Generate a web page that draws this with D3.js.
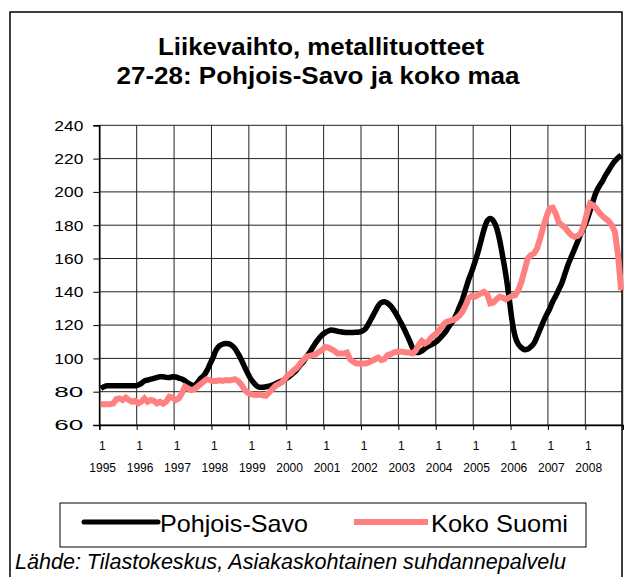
<!DOCTYPE html>
<html>
<head>
<meta charset="utf-8">
<script src="https://cdn.jsdelivr.net/npm/d3@7"></script>
<style>
  body { margin: 0; background: #fff; }
  text { font-family: "Liberation Sans", Arial, sans-serif; }
</style>
</head>
<body>
<div id="chart"></div>
<script>
// chart data: monthly values Jan 1995 .. Dec 2008
const years = [1995, 1996, 1997, 1998, 1999, 2000, 2001, 2002, 2003, 2004, 2005, 2006, 2007, 2008];
const yTicks = [60, 80, 100, 120, 140, 160, 180, 200, 220, 240];

const pohjoisSavo = [
  82, 83, 83.5, 83.5, 83.5, 83.5, 83.5, 83.5, 83.5, 83.5, 83.5, 83.5,
  84, 85, 86.5, 87, 87.5, 88, 88.5, 89, 89, 88.6, 88.5, 89,
  88.8, 88.2, 87.6, 86.5, 85.2, 84.2, 83.8, 85.5, 88, 89.5, 92.5, 96.5,
  100.5, 105, 107.5, 108.5, 109, 108.8, 107.8, 106, 103, 99.5, 95.5, 91.5,
  88, 85.5, 83.5, 82.6, 82.6, 83, 83.3, 84, 84.8, 85.6, 86.4, 87.2,
  88.5, 90, 91.5, 93.5, 96, 98, 101, 103.5, 106.5, 109.5, 112, 114,
  115.5, 116.5, 117, 116.8, 116.3, 116, 115.7, 115.6, 115.6, 115.6, 115.7, 115.8,
  116.5, 118, 121, 124.5, 128, 131.5, 133.5, 134, 133.2, 131.5, 129, 126,
  122.5, 119, 115, 111, 106.5, 103.5, 103.5, 104.5, 106, 107.2, 108.2, 109.2,
  110.5, 112.5, 114.5, 117, 120, 122.5, 126, 130.5, 135, 141, 147, 152,
  157.5, 163.5, 170.5, 177.5, 182.5, 184, 182.5, 178.5, 171, 161, 150, 137,
  122.5, 113, 108.5, 106.5, 105.2, 105.5, 107, 109, 113, 117.5, 122, 126,
  129.5, 134, 137.5, 141.5, 145.5, 151, 156.5, 161, 165.5, 170, 174.5, 178.5,
  183, 188.5, 194.5, 200, 203.5, 206.5, 210, 213, 216, 218.5, 220.5, 222
];

const kokoSuomi = [
  72.5, 72.5, 72.5, 72.5, 73, 75.5, 76, 75, 76.5, 75, 74, 74.5,
  73, 74, 76, 74, 75, 74.5, 73, 74, 72.8, 74, 77, 76.5,
  75, 76, 79, 83, 82, 81, 81.5, 83, 84.5, 86, 87.5, 87,
  86.5, 86.5, 86.8, 86.5, 87, 86.8, 87, 87.5, 86.5, 84.5, 81.5, 79.5,
  78.5, 78.2, 78, 78.3, 77.8, 77.5, 79.5, 81.5, 83.5, 84.5, 85.5, 87.5,
  90, 91, 93, 94.5, 97, 99, 101, 101.5, 102, 102.5, 104, 105,
  107, 106.5, 105.5, 104.5, 103, 103, 103, 103.5, 99.5, 98, 97, 97,
  97, 97, 97.5, 98.5, 99.5, 100.5, 99, 99.5, 102, 102.5, 103.5, 104,
  104, 104, 103.5, 103.5, 103, 104.5, 108, 110.5, 109, 110, 112.5, 114,
  115.5, 118, 120.5, 122, 122.5, 123, 124, 125.5, 128, 131.5, 136, 137.5,
  137, 138, 139, 140, 138.5, 133, 133.5, 135.5, 137, 136.5, 135.5, 136.5,
  137.5, 138, 141, 146, 153, 160, 162, 163, 166, 172, 179, 185,
  190, 190.5, 187, 181.5, 180, 178.5, 176, 174, 173, 173.5, 175, 180,
  187, 193, 192, 190, 187.5, 185.5, 184, 182.5, 180, 176, 162, 141
];

const seriesNames = ["Pohjois-Savo", "Koko Suomi"];
const seriesColors = ["#000000", "#ff8080"];

const W = 626, H = 577;
const plot = { left: 99.3, right: 622.7, top: 125.3, bottom: 425 };

const svg = d3.select("#chart")
  .append("svg")
  .attr("width", W)
  .attr("height", H);

// outer frame
svg.append("rect")
  .attr("x", 10).attr("y", 12)
  .attr("width", 612).attr("height", 600)
  .attr("fill", "none")
  .attr("stroke", "#000")
  .attr("stroke-width", 1.5);

// title
svg.append("text")
  .attr("x", 321).attr("y", 55)
  .attr("text-anchor", "middle")
  .attr("font-size", 24).attr("font-weight", "bold")
  .attr("textLength", 326).attr("lengthAdjust", "spacingAndGlyphs")
  .text("Liikevaihto, metallituotteet");
svg.append("text")
  .attr("x", 318).attr("y", 84)
  .attr("text-anchor", "middle")
  .attr("font-size", 24).attr("font-weight", "bold")
  .attr("textLength", 403).attr("lengthAdjust", "spacingAndGlyphs")
  .text("27-28: Pohjois-Savo ja koko maa");

// scales
const nMonths = years.length * 12;
const x = d3.scaleLinear().domain([0, nMonths]).range([plot.left, plot.right]);
const y = d3.scaleLinear().domain([60, 240]).range([plot.bottom, plot.top]);

const g = svg.append("g");

// horizontal gridlines
g.selectAll("line.hgrid")
  .data(yTicks)
  .enter().append("line")
  .attr("x1", plot.left).attr("x2", plot.right)
  .attr("y1", d => y(d)).attr("y2", d => y(d))
  .attr("stroke", "#222").attr("stroke-width", 1);

// vertical gridlines at each January + right edge
const janIdx = years.map((yr, i) => i * 12).concat([nMonths]);
g.selectAll("line.vgrid")
  .data(janIdx)
  .enter().append("line")
  .attr("x1", d => x(d)).attr("x2", d => x(d))
  .attr("y1", plot.top).attr("y2", plot.bottom)
  .attr("stroke", "#222").attr("stroke-width", 1);

// y axis
const yAxis = g.append("g")
  .attr("transform", `translate(${plot.left},0)`)
  .call(d3.axisLeft(y).tickValues(yTicks).tickSize(6).tickPadding(10).tickFormat(d3.format("d")));
yAxis.select(".domain").attr("stroke", "#000").attr("stroke-width", 1.5);
yAxis.selectAll("text")
  .attr("font-size", 15)
  .attr("fill", "#000")
  .attr("textLength", 29).attr("lengthAdjust", "spacingAndGlyphs");

// x axis
const xAxis = g.append("g")
  .attr("transform", `translate(0,${plot.bottom})`)
  .call(d3.axisBottom(x).tickValues(janIdx.slice(0, -1)).tickSize(5).tickFormat(""));
xAxis.select(".domain").attr("stroke", "#000").attr("stroke-width", 1.5);

g.selectAll("text.mon")
  .data(years)
  .enter().append("text")
  .attr("x", (d, i) => x(i * 12) + 3)
  .attr("y", 450)
  .attr("text-anchor", "middle")
  .attr("font-size", 12)
  .text("1");
g.selectAll("text.yr")
  .data(years)
  .enter().append("text")
  .attr("x", (d, i) => x(i * 12) + 3.4)
  .attr("y", 472)
  .attr("text-anchor", "middle")
  .attr("font-size", 12)
  .attr("textLength", 26.7).attr("lengthAdjust", "spacingAndGlyphs")
  .text(d => d);

// lines
const line = d3.line()
  .x((d, i) => x(i + 0.5))
  .y(d => y(d));

g.append("path")
  .datum(pohjoisSavo)
  .attr("fill", "none")
  .attr("stroke", seriesColors[0])
  .attr("stroke-width", 5.5)
  .attr("stroke-linejoin", "round")
  .attr("d", line.curve(d3.curveMonotoneX));

g.append("path")
  .datum(kokoSuomi)
  .attr("fill", "none")
  .attr("stroke", seriesColors[1])
  .attr("stroke-width", 6)
  .attr("stroke-linejoin", "miter")
  .attr("d", line.curve(d3.curveLinear));

// legend
const lg = svg.append("g");
lg.append("rect")
  .attr("x", 60).attr("y", 503)
  .attr("width", 526).attr("height", 44)
  .attr("fill", "#fff")
  .attr("stroke", "#000").attr("stroke-width", 1);

const legendItems = [
  { x1: 84, x2: 158, tx: 160, tw: 148 },
  { x1: 354, x2: 428, tx: 431, tw: 137 }
];
legendItems.forEach((it, i) => {
  lg.append("line")
    .attr("x1", it.x1).attr("x2", it.x2)
    .attr("y1", 522).attr("y2", 522)
    .attr("stroke", seriesColors[i])
    .attr("stroke-width", i === 0 ? 5 : 6)
    .attr("stroke-linecap", i === 0 ? "round" : "butt");
  lg.append("text")
    .attr("x", it.tx).attr("y", 532)
    .attr("font-size", 24)
    .attr("textLength", it.tw).attr("lengthAdjust", "spacingAndGlyphs")
    .text(seriesNames[i]);
});

// source
svg.append("text")
  .attr("x", 15).attr("y", 569)
  .attr("font-size", 22)
  .attr("font-style", "italic")
  .attr("textLength", 551).attr("lengthAdjust", "spacingAndGlyphs")
  .text("Lähde: Tilastokeskus, Asiakaskohtainen suhdannepalvelu");
</script>
</body>
</html>
